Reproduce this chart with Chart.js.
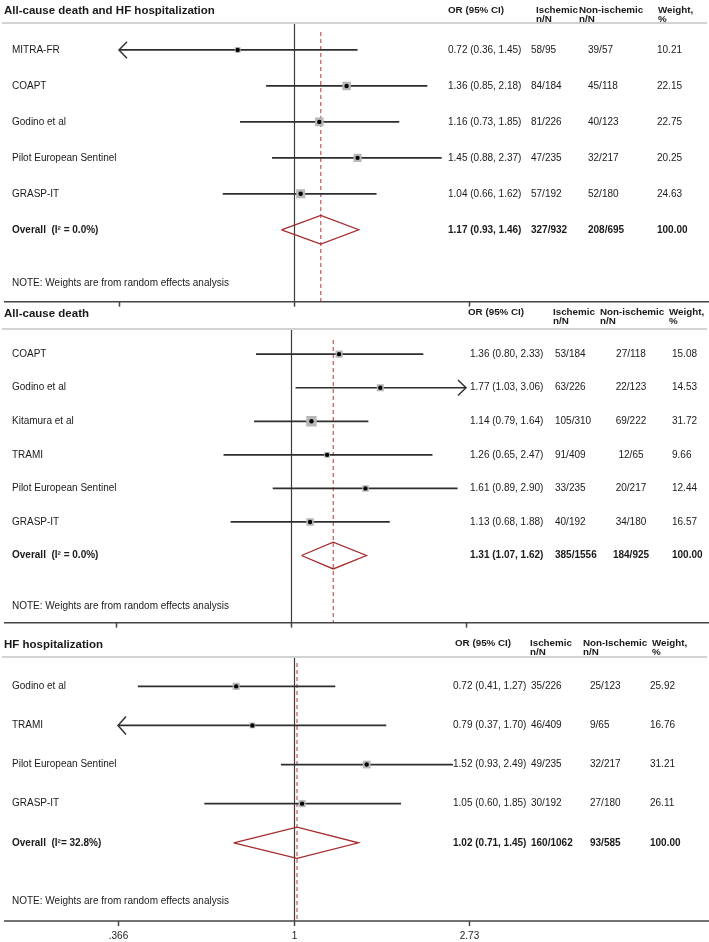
<!DOCTYPE html>
<html>
<head>
<meta charset="utf-8">
<script src="https://cdn.jsdelivr.net/npm/chart.js@4.4.1/dist/chart.umd.min.js"></script>
<style>
  body { margin: 0; background: #fff; }
  #wrap { position: relative; width: 709px; height: 942px; }
  #wrap canvas { position: absolute; left: 0; }
</style>
</head>
<body>
<div id="wrap">
  <canvas id="p1" width="709" height="308" style="top:0px"></canvas>
  <canvas id="p2" width="709" height="322" style="top:308px"></canvas>
  <canvas id="p3" width="709" height="312" style="top:630px"></canvas>
</div>
<script>
// ---- panel 1: all-cause death and HF hospitalization
const studies1 = ['MITRA-FR', 'COAPT', 'Godino et al', 'Pilot European Sentinel', 'GRASP-IT']
const or1 = [0.72, 1.36, 1.16, 1.45, 1.04]
const lo1 = [0.357, 0.85, 0.73, 0.88, 0.66]
const hi1 = [1.45, 2.18, 1.85, 2.37, 1.62]
const isch1 = ['58/95', '84/184', '81/226', '47/235', '57/192']
const nonIsch1 = ['39/57', '45/118', '40/123', '32/217', '52/180']
const weight1 = [10.21, 22.15, 22.75, 20.25, 24.63]
const overall1 = { label: 'Overall  (I\u00B2 = 0.0%)', or: 1.17, lo: 0.93, hi: 1.46, isch: '327/932', non: '208/695', weight: 100 }
const ticks1 = [0.36, 1, 2.78]

// ---- panel 2: all-cause death
const studies2 = ['COAPT', 'Godino et al', 'Kitamura et al', 'TRAMI', 'Pilot European Sentinel', 'GRASP-IT']
const or2 = [1.36, 1.77, 1.14, 1.26, 1.61, 1.13]
const lo2 = [0.80, 1.03, 0.79, 0.65, 0.89, 0.68]
const hi2 = [2.33, 3.064, 1.64, 2.47, 2.90, 1.88]
const isch2 = ['53/184', '63/226', '105/310', '91/409', '33/235', '40/192']
const nonIsch2 = ['27/118', '22/123', '69/222', '12/65', '20/217', '34/180']
const weight2 = [15.08, 14.53, 31.72, 9.66, 12.44, 16.57]
const overall2 = { label: 'Overall  (I\u00B2 = 0.0%)', or: 1.31, lo: 1.07, hi: 1.62, isch: '385/1556', non: '184/925', weight: 100 }
const ticks2 = [0.327, 1, 3.06]

// ---- panel 3: HF hospitalization
const studies3 = ['Godino et al', 'TRAMI', 'Pilot European Sentinel', 'GRASP-IT']
const or3 = [0.72, 0.79, 1.52, 1.05]
const lo3 = [0.41, 0.3655, 0.93, 0.60]
const hi3 = [1.27, 1.70, 2.49, 1.85]
const isch3 = ['35/226', '46/409', '49/235', '30/192']
const nonIsch3 = ['25/123', '9/65', '32/217', '27/180']
const weight3 = [25.92, 16.76, 31.21, 26.11]
const overall3 = { label: 'Overall  (I\u00B2= 32.8%)', or: 1.02, lo: 0.71, hi: 1.45, isch: '160/1062', non: '93/585', weight: 100 }
const ticks3 = [0.366, 1, 2.73]
const tickLabels3 = ['.366', '1', '2.73']

const note = 'NOTE: Weights are from random effects analysis'
const FONT = '"Liberation Sans", Arial, Helvetica, sans-serif'

const panels = [
  {
    id: 'p1', title: 'All-cause death and HF hospitalization',
    head: ['OR (95% CI)', 'Ischemic', 'Non-ischemic', 'Weight,'], sub: ['', 'n/N', 'n/N', '%'],
    studies: studies1, or: or1, lo: lo1, hi: hi1, isch: isch1, non: nonIsch1, weight: weight1,
    overall: overall1, ticks: ticks1, tickLabels: null,
    pad: { left: 119, right: 709 - 469, top: 23, bottom: 4 },
    headX: [448, 536, 579, 658], colX: [448, 531, 588, 657], nonAlign: 'left',
    titleDy: -12.5, headDy: -13, boxK: 1.8, dashStart: 9
  },
  {
    id: 'p2', title: 'All-cause death',
    head: ['OR (95% CI)', 'Ischemic', 'Non-ischemic', 'Weight,'], sub: ['', 'n/N', 'n/N', '%'],
    studies: studies2, or: or2, lo: lo2, hi: hi2, isch: isch2, non: nonIsch2, weight: weight2,
    overall: overall2, ticks: ticks2, tickLabels: null,
    pad: { left: 116, right: 709 - 466, top: 21, bottom: 5 },
    headX: [468, 553, 600, 669], colX: [470, 555, 631, 672], nonAlign: 'center',
    titleDy: -15, headDy: -16.5, boxK: 1.85, dashStart: 11
  },
  {
    id: 'p3', title: 'HF hospitalization',
    head: ['OR (95% CI)', 'Ischemic', 'Non-Ischemic', 'Weight,'], sub: ['', 'n/N', 'n/N', '%'],
    studies: studies3, or: or3, lo: lo3, hi: hi3, isch: isch3, non: nonIsch3, weight: weight3,
    overall: overall3, ticks: ticks3, tickLabels: tickLabels3,
    pad: { left: 118, right: 709 - 469, top: 27, bottom: 21 },
    headX: [455, 530, 583, 652], colX: [453, 531, 590, 650], nonAlign: 'left',
    titleDy: -12.5, headDy: -14, boxK: 1.4, dashStart: 6
  }
]

function ciText(o, l, h) {
  return o.toFixed(2) + ' (' + l.toFixed(2) + ', ' + h.toFixed(2) + ')'
}

function makeDecor(p) {
  return {
    id: 'forestDecor_' + p.id,
    beforeDatasetsDraw(chart) {
      const { ctx, chartArea: a, scales: { x } } = chart
      ctx.save()
      const x1 = Math.round(x.getPixelForValue(1)) + 0.5
      ctx.strokeStyle = '#3c3c3c'
      ctx.lineWidth = 1.2
      ctx.beginPath(); ctx.moveTo(x1, a.top); ctx.lineTo(x1, a.bottom); ctx.stroke()
      const xo = x.getPixelForValue(p.overall.or)
      ctx.strokeStyle = '#b83434'
      ctx.lineWidth = 1
      ctx.setLineDash([4, 3])
      ctx.beginPath(); ctx.moveTo(xo, a.top + p.dashStart); ctx.lineTo(xo, a.bottom); ctx.stroke()
      ctx.restore()
    },
    afterDatasetsDraw(chart) {
      // arrows for intervals that run off the axis
      const { ctx, chartArea: a, scales: { x, y } } = chart
      const rowPx = Math.abs(y.getPixelForValue(1) - y.getPixelForValue(0))
      const dy = rowPx * 0.23, dx = 8
      ctx.save()
      ctx.strokeStyle = '#333'
      ctx.lineWidth = 1.5
      p.studies.forEach((s, i) => {
        const py = y.getPixelForValue(i)
        if (p.lo[i] < x.min) {
          ctx.beginPath(); ctx.moveTo(a.left + dx, py - dy); ctx.lineTo(a.left, py); ctx.lineTo(a.left + dx, py + dy); ctx.stroke()
        }
        if (p.hi[i] > x.max) {
          ctx.beginPath(); ctx.moveTo(a.right - dx, py - dy); ctx.lineTo(a.right, py); ctx.lineTo(a.right - dx, py + dy); ctx.stroke()
        }
      })
      ctx.restore()
    },
    afterDraw(chart) {
      const { ctx, chartArea: a, scales: { x, y } } = chart
      ctx.save()
      ctx.fillStyle = '#1a1a1a'
      ctx.textBaseline = 'middle'
      ctx.textAlign = 'left'
      // title + column headers
      ctx.font = 'bold 11.5px ' + FONT
      ctx.fillText(p.title, 4, a.top + p.titleDy)
      ctx.font = 'bold 9.8px ' + FONT
      p.head.forEach((h, i) => {
        ctx.fillText(h, p.headX[i], a.top + p.headDy)
        if (p.sub[i]) ctx.fillText(p.sub[i], p.headX[i], a.top + p.headDy + 9)
      })
      ctx.strokeStyle = '#d2d2d2'
      ctx.lineWidth = 2
      ctx.beginPath(); ctx.moveTo(2, a.top); ctx.lineTo(707, a.top); ctx.stroke()

      // study rows
      const rows = p.studies.map((s, i) => ({
        label: s, ci: ciText(p.or[i], p.lo[i], p.hi[i]), isch: p.isch[i], non: p.non[i],
        w: p.weight[i].toFixed(2), bold: false
      }))
      const o = p.overall
      rows.push({ label: o.label, ci: ciText(o.or, o.lo, o.hi), isch: o.isch, non: o.non, w: o.weight.toFixed(2), bold: true })
      rows.forEach((r, i) => {
        const py = y.getPixelForValue(i)
        ctx.font = (r.bold ? 'bold ' : '') + '10px ' + FONT
        ctx.textAlign = 'left'
        ctx.fillText(r.label, 12, py)
        ctx.fillText(r.ci, p.colX[0], py)
        ctx.fillText(r.isch, p.colX[1], py)
        ctx.textAlign = p.nonAlign
        ctx.fillText(r.non, p.colX[2], py)
        ctx.textAlign = 'left'
        ctx.fillText(r.w, p.colX[3], py)
      })
      ctx.font = '10px ' + FONT
      ctx.fillText(note, 12, y.getPixelForValue(rows.length + 0.5))

      // x axis
      ctx.strokeStyle = '#444'
      ctx.lineWidth = 1.5
      ctx.beginPath(); ctx.moveTo(4, a.bottom); ctx.lineTo(709, a.bottom); ctx.stroke()
      p.ticks.forEach((t, i) => {
        const px = Math.round(x.getPixelForValue(t)) + 0.5
        ctx.beginPath(); ctx.moveTo(px, a.bottom); ctx.lineTo(px, a.bottom + 5); ctx.stroke()
        if (p.tickLabels) {
          ctx.textAlign = 'center'
          ctx.fillText(p.tickLabels[i], px, a.bottom + 15)
        }
      })
      ctx.restore()
    }
  }
}

function buildChart(p) {
  const n = p.studies.length
  const datasets = []
  const xMin = p.ticks[0], xMax = p.ticks[p.ticks.length - 1]
  p.studies.forEach((s, i) => {
    datasets.push({
      type: 'line', order: 4,
      data: [{ x: Math.max(p.lo[i], xMin), y: i }, { x: Math.min(p.hi[i], xMax), y: i }],
      borderColor: '#2e2e2e', borderWidth: 1.7, pointRadius: 0, fill: false
    })
  })
  datasets.push({
    type: 'scatter', order: 3,
    data: p.or.map((v, i) => ({ x: v, y: i })),
    pointStyle: 'rect', backgroundColor: '#b8b8b8', borderWidth: 0,
    pointRadius: p.weight.map(w => p.boxK * Math.sqrt(w) * Math.SQRT1_2)
  })
  const o = p.overall
  datasets.push({
    type: 'line', order: 2,
    data: [{ x: o.lo, y: n }, { x: o.or, y: n - 0.4 }, { x: o.hi, y: n }, { x: o.or, y: n + 0.4 }, { x: o.lo, y: n }],
    borderColor: '#a52a2a', borderWidth: 1.3, pointRadius: 0, fill: false, tension: 0
  })
  datasets.push({
    type: 'scatter', order: 1,
    data: p.or.map((v, i) => ({ x: v, y: i })),
    pointStyle: 'circle', backgroundColor: '#000', borderWidth: 0, pointRadius: 2.2
  })

  return new Chart(document.getElementById(p.id), {
    type: 'scatter',
    data: { datasets },
    options: {
      responsive: false,
      animation: false,
      events: [],
      layout: { padding: p.pad },
      plugins: { legend: { display: false }, tooltip: { enabled: false } },
      scales: {
        x: { type: 'logarithmic', min: xMin, max: xMax, bounds: 'data', display: false },
        y: { type: 'linear', min: -0.75, max: n + 2, bounds: 'data', reverse: true, display: false }
      }
    },
    plugins: [makeDecor(p)]
  })
}

panels.forEach(buildChart)
</script>
</body>
</html>
